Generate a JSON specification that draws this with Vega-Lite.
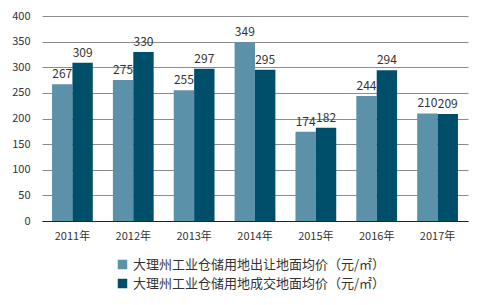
{
  "$schema": "https://vega.github.io/schema/vega-lite/v6.json",
  "autosize": {"type": "none"},
  "width": 426,
  "height": 205,
  "padding": {"left": 42, "top": 16, "right": 19, "bottom": 84},
  "background": "white",
  "config": {
    "font": "Noto Sans CJK SC",
    "view": {"stroke": null}
  },
  "data": {
    "values": [
      {"year": "2011年", "series": "大理州工业仓储用地出让地面均价（元/㎡）", "value": 267},
      {"year": "2011年", "series": "大理州工业仓储用地成交地面均价（元/㎡）", "value": 309},
      {"year": "2012年", "series": "大理州工业仓储用地出让地面均价（元/㎡）", "value": 275},
      {"year": "2012年", "series": "大理州工业仓储用地成交地面均价（元/㎡）", "value": 330},
      {"year": "2013年", "series": "大理州工业仓储用地出让地面均价（元/㎡）", "value": 255},
      {"year": "2013年", "series": "大理州工业仓储用地成交地面均价（元/㎡）", "value": 297},
      {"year": "2014年", "series": "大理州工业仓储用地出让地面均价（元/㎡）", "value": 349},
      {"year": "2014年", "series": "大理州工业仓储用地成交地面均价（元/㎡）", "value": 295},
      {"year": "2015年", "series": "大理州工业仓储用地出让地面均价（元/㎡）", "value": 174},
      {"year": "2015年", "series": "大理州工业仓储用地成交地面均价（元/㎡）", "value": 182},
      {"year": "2016年", "series": "大理州工业仓储用地出让地面均价（元/㎡）", "value": 244},
      {"year": "2016年", "series": "大理州工业仓储用地成交地面均价（元/㎡）", "value": 294},
      {"year": "2017年", "series": "大理州工业仓储用地出让地面均价（元/㎡）", "value": 210},
      {"year": "2017年", "series": "大理州工业仓储用地成交地面均价（元/㎡）", "value": 209}
    ]
  },
  "encoding": {
    "x": {
      "field": "year", "type": "nominal", "title": null,
      "scale": {"paddingInner": 0.33, "paddingOuter": 0.165},
      "axis": {"labelAngle": 0, "labelFontSize": 11, "labelColor": "#333333", "ticks": false, "domainColor": "#222222", "labelPadding": 9}
    },
    "xOffset": {"field": "series", "type": "nominal", "scale": {"paddingInner": 0}},
    "y": {
      "field": "value", "type": "quantitative", "title": null,
      "scale": {"domain": [0, 400]},
      "axis": {"values": [0, 50, 100, 150, 200, 250, 300, 350, 400], "labelFontSize": 11, "labelColor": "#333333", "ticks": false, "domain": false, "gridColor": "#8c8c8c", "gridWidth": 1, "labelPadding": 12}
    }
  },
  "layer": [
    {
      "mark": {"type": "bar"},
      "encoding": {
        "color": {
          "field": "series", "type": "nominal",
          "scale": {"range": ["#5b91a9", "#004f6a"]},
          "legend": {
            "title": null, "orient": "none", "legendX": 74, "legendY": 242,
            "direction": "vertical", "symbolType": "square", "symbolSize": 90,
            "labelFontSize": 13, "labelColor": "#333333", "rowPadding": 5, "labelLimit": 400, "symbolOffset": 0
          }
        }
      }
    },
    {
      "mark": {"type": "text", "dy": -10, "fontSize": 12, "color": "#333333"},
      "encoding": {"text": {"field": "value", "type": "quantitative"}}
    }
  ]
}
